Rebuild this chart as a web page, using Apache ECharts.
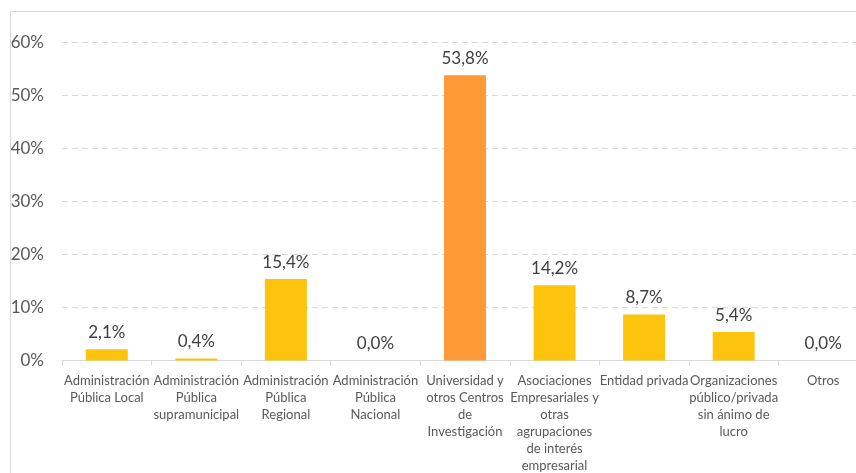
<!DOCTYPE html>
<html>
<head>
<meta charset="utf-8">
<script src="https://cdn.jsdelivr.net/npm/echarts@6/dist/echarts.min.js"></script>
<style>
  html, body { margin: 0; padding: 0; background: #fff; }
  #chart { width: 856px; height: 473px; }
</style>
</head>
<body>
<div id="chart"></div>
<script>
// Données
const categories = [
  "Administración\nPública Local",
  "Administración\nPública\nsupramunicipal",
  "Administración\nPública\nRegional",
  "Administración\nPública\nNacional",
  "Universidad y\notros Centros\nde\nInvestigación",
  "Asociaciones\nEmpresariales y\notras\nagrupaciones\nde interés\nempresarial",
  "Entidad privada",
  "Organizaciones\npúblico/privada\nsin ánimo de\nlucro",
  "Otros"
];
const valores = [2.1, 0.4, 15.4, 0.0, 53.8, 14.2, 8.7, 5.4, 0.0];
const destacado = 4; // barra naranja
const yTicks = [0, 10, 20, 30, 40, 50, 60];

const FONT = "Lato";
const amarillo = "#FCC40C";
const naranja = "#FF9A36";

const chart = echarts.init(document.getElementById("chart"));
const option = {
  backgroundColor: "#fff",
  animation: false,
  graphic: [{
    type: "rect",
    shape: { x: 10.5, y: 11.5, width: 900, height: 500 },
    style: { fill: "none", stroke: "#d9d9d9", lineWidth: 1 },
    silent: true
  }],
  grid: { left: 62, top: 42.5, width: 806, height: 318, outerBoundsMode: "none", containLabel: false },
  xAxis: {
    type: "category",
    data: categories,
    axisLine: { lineStyle: { color: "#d9d9d9" } },
    axisTick: { show: true, length: 5, lineStyle: { color: "#d9d9d9" } },
    axisLabel: {
      interval: 0,
      color: "#595959",
      fontFamily: FONT,
      fontSize: 13,
      lineHeight: 17,
      margin: 12
    }
  },
  yAxis: {
    type: "value",
    min: yTicks[0],
    max: yTicks[yTicks.length - 1],
    interval: 10,
    axisLine: { show: false },
    axisTick: { show: false },
    splitLine: { lineStyle: { color: "#d9d9d9", type: [6, 4] } },
    axisLabel: {
      color: "#595959",
      fontFamily: FONT,
      fontSize: 17,
      margin: 18,
      formatter: v => v + "%"
    }
  },
  series: [{
    type: "bar",
    barWidth: 42,
    data: valores.map((v, i) => ({
      value: v,
      itemStyle: { color: i === destacado ? naranja : amarillo }
    })),
    label: {
      show: true,
      position: "top",
      distance: 8,
      color: "#404040",
      fontFamily: FONT,
      fontSize: 17,
      formatter: p => p.value.toFixed(1).replace(".", ",") + "%"
    }
  }]
};
chart.setOption(option);
</script>
</body>
</html>
